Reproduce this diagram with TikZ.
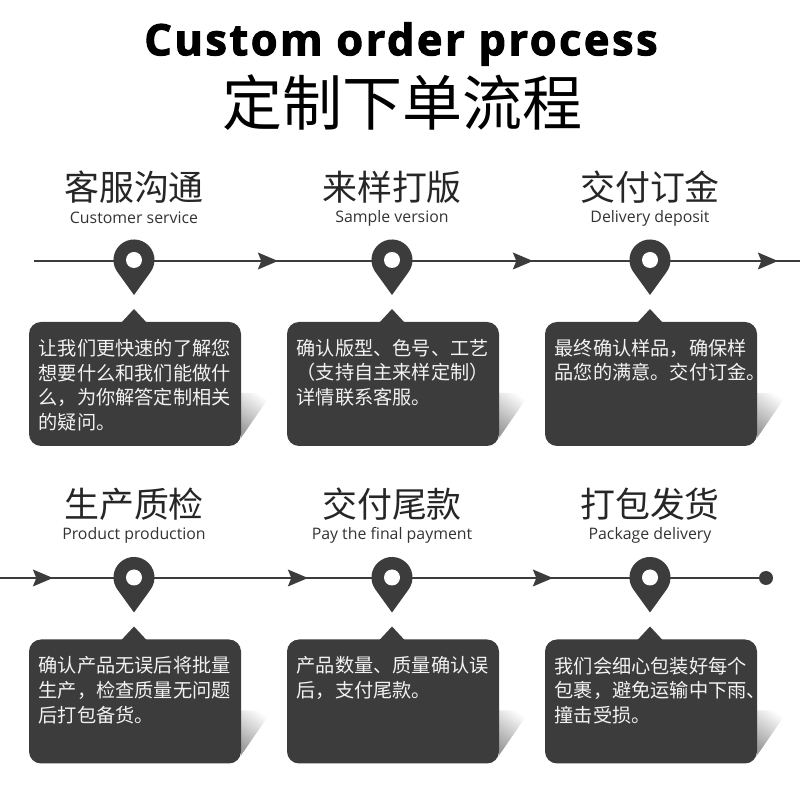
\documentclass[tikz,border=0pt]{standalone}
\usepackage{fontspec}
\usetikzlibrary{arrows.meta}
\setmainfont{Open Sans}
\newfontfamily\cjk{Noto Sans CJK SC}
\newfontfamily\entitle[LetterSpace=6,FakeBold=2.5]{Open Sans Bold}
\definecolor{ink}{HTML}{3C3C3C}
\tikzset{
  x=0.75pt,y=0.75pt,
  tline/.style={draw=ink,line width=1.9pt},
  tcont/.style={tline,shorten <=-8pt},
  tarrow/.style={tline,-{Stealth[length=15pt,width=12.5pt,inset=2.5pt]}},
  boxbody/.style={fill=ink,rounded corners=9pt},
  boxnode/.style={draw=none,inner sep=0pt,minimum width=159pt,minimum height=93pt,anchor=north west},
  bodytext/.style={anchor=north west,inner sep=0pt,align=left,text=white!95!black,font=\cjk\fontsize{14.4}{18.4}\selectfont},
  headtext/.style={inner sep=0pt,font=\cjk\fontsize{26.2}{30}\selectfont,text=black!85},
  subtext/.style={inner sep=0pt,font=\fontsize{11.9}{14}\selectfont,text=black!80},
  hole/.style={circle,fill=white,inner sep=0pt,minimum size=12pt},
}
\newcommand{\stepitem}[6]{%
  \shade[top color=white,bottom color=black!38,shading angle=-35]
    ({#2+107},{407-#3}) -- ({#2+138},{407-#3}) -- ({#2+107},{362-#3}) -- cycle;
  \fill[ink] (#2,{505-#3}) -- ({#2+16.6},{528-#3}) arc[start angle=-35.9,end angle=215.9,radius=20.5] -- cycle;
  \node[hole] (hole#1) at (#2,{540-#3}) {};
  \node[headtext] (head#1) at (#2,{613-#3}) {#4};
  \node[subtext] (sub#1) at (#2,{582-#3}) {#5};
  \fill[ink] ({#2-13},{477-#3}) -- (#2,{491-#3}) -- ({#2+13},{477-#3}) -- cycle;
  \fill[boxbody] ({#2-105},{478-#3}) rectangle ({#2+107},{354-#3});
  \node[boxnode] (box#1) at ({#2-105},{478-#3}) {};
  \node[bodytext] (text#1) at ({#2-95.5},{461-#3}) {#6};
}
\begin{document}
\begin{tikzpicture}
\useasboundingbox (0,0) rectangle (800,800);
\node[inner sep=0pt,font=\entitle\fontsize{32.4}{36}\selectfont] (title) at (401,756) {Custom order process};
\node[inner sep=0pt,font=\cjk\fontsize{45}{50}\selectfont,text=black] (titlecn) at (402,697) {定制下单流程};
\coordinate (s1) at (34,539);
\coordinate (a1) at (278,539);
\coordinate (a2) at (533,539);
\coordinate (a3) at (778,539);
\coordinate (p1) at (134,539);
\coordinate (p2) at (392,539);
\coordinate (p3) at (650,539);
\coordinate (s2) at (0,222);
\coordinate (b1) at (53,222);
\coordinate (b2) at (308,222);
\coordinate (b3) at (553,222);
\coordinate (p4) at (134,222);
\coordinate (p5) at (392,222);
\coordinate (p6) at (650,222);
\coordinate (e1) at (800,539);
\node[circle,fill=ink,inner sep=0pt,minimum size=10.5pt] (endp) at (766,222) {};
\draw[tline] (s1) -- (p1);
\draw[tarrow] (p1) -- (a1);
\draw[tcont] (a1) -- (p2);
\draw[tarrow] (p2) -- (a2);
\draw[tcont] (a2) -- (p3);
\draw[tarrow] (p3) -- (a3);
\draw[tcont] (a3) -- (e1);
\draw[tarrow] (s2) -- (b1);
\draw[tcont] (b1) -- (p4);
\draw[tarrow] (p4) -- (b2);
\draw[tcont] (b2) -- (p5);
\draw[tarrow] (p5) -- (b3);
\draw[tcont] (b3) -- (p6);
\draw[tline] (p6) -- (endp);
\stepitem{a}{134}{0}{客服沟通}{Customer service}{让我们更快速的了解您\\想要什么和我们能做什\\么，为你解答定制相关\\的疑问。}
\stepitem{b}{392}{0}{来样打版}{Sample version}{确认版型、色号、工艺\\（支持自主来样定制）\\详情联系客服。}
\stepitem{c}{650}{0}{交付订金}{Delivery deposit}{最终确认样品，确保样\\品您的满意。交付订金。}
\stepitem{d}{134}{317.5}{生产质检}{Product production}{确认产品无误后将批量\\生产，检查质量无问题\\后打包备货。}
\stepitem{e}{392}{317.5}{交付尾款}{Pay the final payment}{产品数量、质量确认误\\后，支付尾款。}
\stepitem{f}{650}{317.5}{打包发货}{Package delivery}{我们会细心包装好每个\\包裹，避免运输中下雨、\\撞击受损。}
\end{tikzpicture}
\end{document}
